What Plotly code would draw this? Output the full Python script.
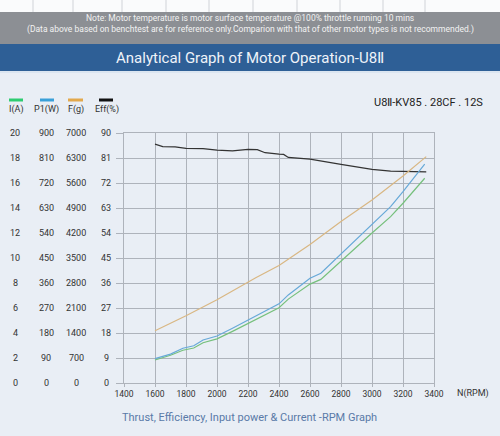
"""Analytical graph of motor operation (U8II) rebuilt with Plotly."""

import plotly.graph_objects as go

# ---- data ----
rpm_ip = [1600, 1700, 1780, 1850, 1910, 2000, 2100, 2200, 2280, 2400, 2460,
          2600, 2670, 2800, 3000, 3120, 3200, 3340]
current_a = [1.84, 2.22, 2.62, 2.80, 3.22, 3.53, 4.13, 4.78, 5.24, 6.02, 6.71,
             7.91, 8.29, 9.78, 12.0, 13.31, 14.38, 16.38]
power_w = [88, 104, 125, 134, 155, 169, 197, 227, 248, 285, 317,
           377, 395, 465, 570, 635, 689, 788]

rpm_f = [1600, 1800, 2000, 2200, 2250, 2400, 2600, 2800, 3000, 3200, 3350]
thrust_g = [1462, 1882, 2333, 2839, 2948, 3290, 3881, 4519, 5126, 5795, 6339]

rpm_eff = [1600, 1650, 1730, 1800, 1910, 2000, 2100, 2200, 2260, 2310, 2400,
           2430, 2460, 2600, 2800, 3000, 3120, 3250, 3350]
eff_pct = [86.0, 85.1, 85.0, 84.5, 84.4, 83.8, 83.6, 84.1, 84.0, 82.9, 82.4,
           82.3, 81.2, 80.6, 78.7, 76.9, 76.3, 76.1, 76.0]

i_ticks = [0, 2, 4, 6, 8, 10, 12, 14, 16, 18, 20]
p_ticks = [0, 90, 180, 270, 360, 450, 540, 630, 720, 810, 900]
f_ticks = [0, 700, 1400, 2100, 2800, 3500, 4200, 4900, 5600, 6300, 7000]
eff_ticks = [0, 9, 18, 27, 36, 45, 54, 63, 72, 81, 90]
rpm_ticks = [1400, 1600, 1800, 2000, 2200, 2400, 2600, 2800, 3000, 3200, 3400]

legend_names = ["I(A)", "P1(W)", "F(g)", "Eff(%)"]

W, H = 500, 436
BG = "#e9eef5"
GRID = "#aeb3bb"
TXT = "#333333"
FONT = "Roboto"


def px(x):
    return x / W


def py(y):
    return 1 - y / H


fig = go.Figure()

fig.add_trace(go.Scatter(x=rpm_ip, y=current_a, yaxis="y2", mode="lines",
                         line=dict(color="#76c07c", width=1.2), name="I(A)"))
fig.add_trace(go.Scatter(x=rpm_ip, y=power_w, yaxis="y3", mode="lines",
                         line=dict(color="#67a9d8", width=1.2), name="P1(W)"))
fig.add_trace(go.Scatter(x=rpm_f, y=thrust_g, yaxis="y4", mode="lines",
                         line=dict(color="#d9b783", width=1.2), name="F(g)"))
fig.add_trace(go.Scatter(x=rpm_eff, y=eff_pct, yaxis="y", mode="lines",
                         line=dict(color="#333333", width=1.2), name="Eff(%)"))

x_dom = [px(124), px(434)]
y_dom = [py(383), py(133)]

shapes = [
    # cut-off table strip at the top
    dict(type="rect", xref="paper", yref="paper", x0=0, x1=1, y0=py(12), y1=1,
         fillcolor="#fafbfc", line=dict(width=0), layer="below"),
    # grey note band
    dict(type="rect", xref="paper", yref="paper", x0=0, x1=1, y0=py(44), y1=py(12),
         fillcolor="#8c8f94", line=dict(width=0), layer="below"),
    # blue title band
    dict(type="rect", xref="paper", yref="paper", x0=0, x1=1, y0=py(71), y1=py(44),
         fillcolor="#2e5f96", line=dict(width=0), layer="below"),
    dict(type="rect", xref="paper", yref="paper", x0=0, x1=1, y0=py(73), y1=py(71),
         fillcolor="#dbe5f0", line=dict(width=0), layer="below"),
]
for xv in [33, 73, 122, 166, 209, 253, 297, 340, 383, 425]:
    shapes.append(dict(type="line", xref="paper", yref="paper", x0=px(xv), x1=px(xv),
                       y0=py(12), y1=1, line=dict(color="#d0d3d8", width=1)))

swatch_colors = ["#2ecc71", "#3aa0d8", "#e3a94c", "#111111"]
swatch_x = [(9, 23), (40, 54), (68, 83), (99, 113)]
for c, (a, b) in zip(swatch_colors, swatch_x):
    shapes.append(dict(type="line", xref="paper", yref="paper", x0=px(a), x1=px(b),
                       y0=py(100), y1=py(100), line=dict(color=c, width=3)))

ann = [
    dict(text="Note: Motor temperature is motor surface temperature @100% throttle running 10 mins",
         x=0.5, y=py(18), font=dict(size=8.5, color="#f2f2f2")),
    dict(text="(Data above based on benchtest are for reference only.Comparion with that of other motor types is not recommended.)",
         x=0.5, y=py(29.5), font=dict(size=8.5, color="#f2f2f2")),
    dict(text="Analytical Graph of Motor Operation-U8Ⅱ", x=0.5, y=py(58),
         font=dict(size=15, color="#eef3f9")),
    dict(text="U8Ⅱ-KV85 . 28CF . 12S", x=px(485), y=py(103), xanchor="right",
         font=dict(size=11, color="#222222")),
    dict(text="N(RPM)", x=px(473), y=py(393), font=dict(size=9, color=TXT)),
    dict(text="Thrust, Efficiency, Input power & Current -RPM Graph", x=px(249), y=py(417),
         font=dict(size=11, color="#5a7aa8")),
]
for name, xc in zip(legend_names, [16, 46, 76, 107]):
    ann.append(dict(text=name, x=px(xc), y=py(109), font=dict(size=9, color=TXT)))

# tick label columns placed through each series' own axis
for ticks, ref, xc in [(i_ticks, "y2", 15), (p_ticks, "y3", 46),
                       (f_ticks, "y4", 76), (eff_ticks, "y", 106)]:
    for t in ticks:
        ann.append(dict(text=str(t), x=px(xc), y=t, yref=ref,
                        font=dict(size=9, color=TXT)))

for a in ann:
    a.setdefault("xref", "paper")
    a.setdefault("yref", "paper")
    a.setdefault("xanchor", "center")
    a.setdefault("yanchor", "middle")
    a["showarrow"] = False
    a["font"]["family"] = FONT

hidden = dict(overlaying="y", anchor="x", visible=False, domain=y_dom, fixedrange=True)

fig.update_layout(
    width=W, height=H,
    margin=dict(l=0, r=0, t=0, b=0, autoexpand=False),
    paper_bgcolor=BG, plot_bgcolor=BG,
    showlegend=False,
    font=dict(family=FONT, size=9, color=TXT),
    xaxis=dict(domain=x_dom, range=[1400, 3400], tickvals=rpm_ticks,
               showgrid=True, gridcolor=GRID, gridwidth=1, zeroline=False,
               showline=True, linecolor=GRID, mirror=True,
               ticks="outside", ticklen=3, tickcolor=GRID,
               tickfont=dict(size=8.5, color=TXT)),
    yaxis=dict(domain=y_dom, range=[0, 90], tickvals=eff_ticks,
               showgrid=True, gridcolor=GRID, gridwidth=1, zeroline=False,
               showline=True, linecolor=GRID, mirror=True,
               ticks="outside", ticklen=7, tickcolor=GRID, showticklabels=False),
    yaxis2=dict(range=[0, 20], **hidden),
    yaxis3=dict(range=[0, 900], **hidden),
    yaxis4=dict(range=[0, 7000], **hidden),
    shapes=shapes,
    annotations=ann,
)

# drop the browser's default page margin so the figure fills the window
fig.write_html("out.html", config={"displayModeBar": False},
               post_script="document.body.style.margin='0';"
                           "document.body.style.overflow='hidden';")
